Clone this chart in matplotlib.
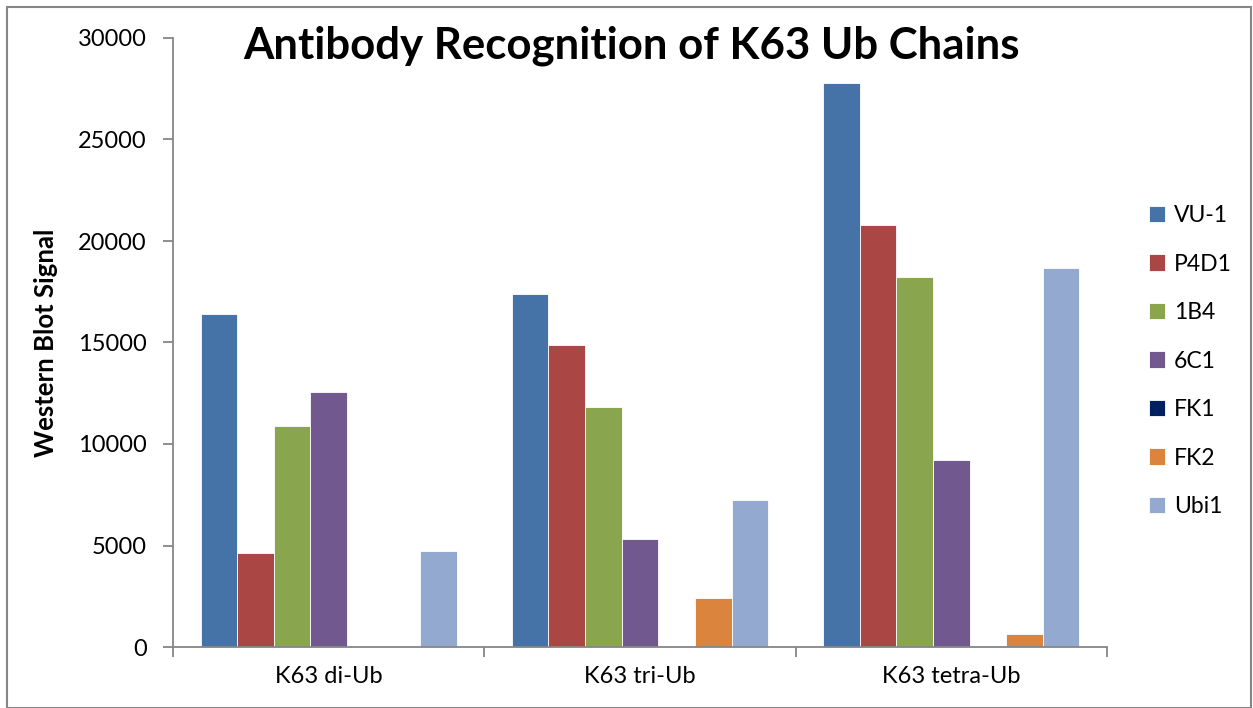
import matplotlib
matplotlib.use("Agg")
import matplotlib.pyplot as plt
import numpy as np
from matplotlib.patches import Rectangle

categories = ["K63 di-Ub", "K63 tri-Ub", "K63 tetra-Ub"]
series_names = ["VU-1", "P4D1", "1B4", "6C1", "FK1", "FK2", "Ubi1"]
vu1 = [16400, 17400, 27800]
p4d1 = [4650, 14900, 20800]
b14 = [10900, 11800, 18250]
c61 = [12550, 5300, 9200]
fk1 = [0, 0, 0]
fk2 = [0, 2400, 650]
ubi1 = [4750, 7250, 18650]
values = [vu1, p4d1, b14, c61, fk1, fk2, ubi1]
colors = ["#4572A7", "#AA4643", "#89A54E", "#71588F", "#002060", "#DB843D", "#93A9CF"]

plt.rcParams['font.family'] = ['Lato', 'DejaVu Sans']

fig = plt.figure(figsize=(12.53, 7.08), dpi=100)
ax = fig.add_axes([173/1253, 1-647/708, (1107-173)/1253, (647-38)/708])

n = len(series_names)
group_w = 0.823
bw = group_w / n
x = np.arange(len(categories))
for i, (name, vals, c) in enumerate(zip(series_names, values, colors)):
    pos = x - group_w/2 + bw*(i+0.5)
    ax.bar(pos, vals, width=bw, color=c, edgecolor="white", linewidth=0.6, label=name, zorder=2)

ax.set_xlim(-0.5, len(categories)-0.5)
ax.set_ylim(0, 30000)
ax.set_yticks(np.arange(0, 30001, 5000))
ax.set_yticklabels([str(v) for v in range(0, 30001, 5000)], fontsize=17)
ax.set_xticks(x)
ax.set_xticklabels(categories, fontsize=17)
ax.set_xticks(np.arange(-0.5, len(categories), 1.0), minor=True)
ax.tick_params(axis='x', which='major', length=0, pad=14)
ax.tick_params(axis='x', which='minor', length=7, width=1.3, color="#868686", direction='out')
ax.tick_params(axis='y', length=7, width=1.3, color="#868686", direction='out', pad=12)
for s in ["top", "right"]:
    ax.spines[s].set_visible(False)
for s in ["left", "bottom"]:
    ax.spines[s].set_color("#868686")
    ax.spines[s].set_linewidth(1.3)

ax.set_ylabel("Western Blot Signal", fontsize=18.5, fontweight="bold", labelpad=14)
fig.text(0.504, 0.936, "Antibody Recognition of K63 Ub Chains", fontsize=31.5, fontweight="bold",
         ha="center", va="center")

leg = ax.legend(loc="center left", frameon=False,
                fontsize=16.5, handlelength=0.7, handleheight=0.7, labelspacing=1.2, handletextpad=0.4)
leg.set_bbox_to_anchor((1128/1253, 1 - 361/708), transform=fig.transFigure)

fig.patches.append(Rectangle((7/1253, 0), 1 - 7/1253 - 2/1253, 1 - 7/708, transform=fig.transFigure,
                             fill=False, edgecolor="#868686", linewidth=1.5))

fig.savefig("out.png", dpi=100)
